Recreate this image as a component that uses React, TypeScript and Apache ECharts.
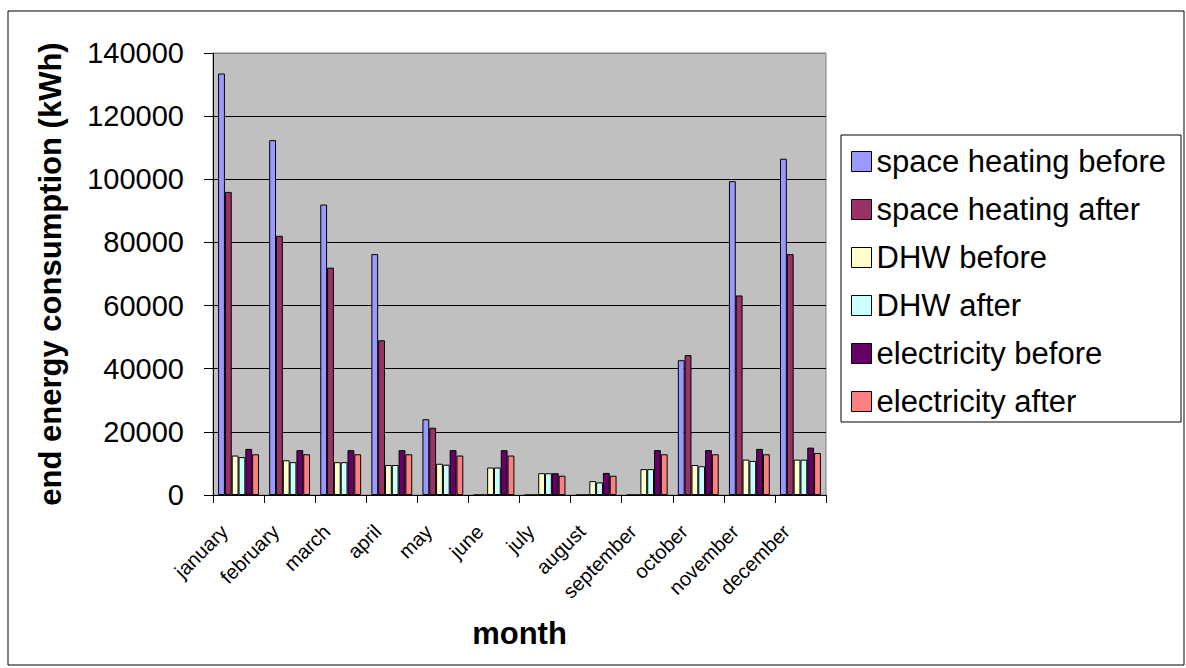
import React, { useEffect, useRef } from "react";
import * as echarts from "echarts";

const months = ["january", "february", "march", "april", "may", "june", "july", "august", "september", "october", "november", "december"];
const seriesNames = ["space heating before", "space heating after", "DHW before", "DHW after", "electricity before", "electricity after"];
const seriesColors = ["#9999FF", "#993366", "#FFFFCC", "#CCFFFF", "#660066", "#FF8080"];
const spaceHeatingBefore = [133500, 112400, 92000, 76300, 24000, 0, 0, 0, 0, 42700, 99400, 106500];
const spaceHeatingAfter = [96000, 82100, 72000, 49000, 21300, 0, 0, 0, 0, 44300, 63200, 76300];
const dhwBefore = [12500, 11000, 10400, 9500, 9900, 8700, 6900, 4400, 8200, 9500, 11200, 11200];
const dhwAfter = [12000, 10400, 10400, 9500, 9600, 8700, 6900, 4000, 8200, 9100, 10800, 11200];
const electricityBefore = [14600, 14200, 14200, 14200, 14200, 14200, 6900, 7000, 14200, 14200, 14600, 15000];
const electricityAfter = [12900, 12900, 12900, 12900, 12500, 12500, 6100, 6100, 12900, 12900, 12900, 13300];
const yTicks = { min: 0, max: 140000, interval: 20000 };

const FONT = "'Liberation Sans', Arial, sans-serif";

export default function App() {
  const ref = useRef<HTMLDivElement>(null);
  useEffect(() => {
    if (!ref.current) return;
    const chart = echarts.init(ref.current, null, { renderer: "svg" });
    const allData = [spaceHeatingBefore, spaceHeatingAfter, dhwBefore, dhwAfter, electricityBefore, electricityAfter];
    const gridL = 213, gridT = 53, gridW = 613, gridH = 442;
    chart.setOption({
      animation: false,
      backgroundColor: "#ffffff",
      textStyle: { fontFamily: FONT },
      grid: {
        left: gridL, top: gridT, width: gridW, height: gridH,
        show: true, backgroundColor: "#C0C0C0", borderColor: "#808080", borderWidth: 1,
      },
      legend: {
        orient: "vertical",
        left: 851, top: 146, padding: 0,
        itemWidth: 20, itemHeight: 20, itemGap: 17, itemTextGap: 10,
        icon: "rect",
        itemStyle: { borderColor: "#000", borderWidth: 1 },
        textStyle: { fontSize: 31, color: "#000", fontFamily: FONT },
        data: seriesNames,
      },
      xAxis: {
        type: "category",
        data: months,
        axisLine: { lineStyle: { color: "#000", width: 1 } },
        axisTick: { show: true, length: 8, lineStyle: { color: "#000" } },
        axisLabel: { rotate: 45, fontSize: 20, color: "#000", fontFamily: FONT, margin: 19, padding: [0, 20, 0, 0], interval: 0 },
        splitLine: { show: false },
      },
      yAxis: {
        type: "value",
        min: yTicks.min, max: yTicks.max, interval: yTicks.interval,
        axisLine: { show: true, lineStyle: { color: "#000", width: 1 } },
        axisTick: { show: true, length: 9, lineStyle: { color: "#000" } },
        axisLabel: { fontSize: 29, color: "#000", fontFamily: FONT, margin: 29, formatter: (v: number) => String(v) },
        splitLine: {
          show: true,
          lineStyle: { color: ["#000", "#000", "#000", "#000", "#000", "#000", "#000", "#808080"], width: 1 },
        },
      },
      series: seriesNames.map((name, i) => ({
        name,
        type: "bar",
        data: allData[i],
        barGap: "0%",
        barCategoryGap: "20%",
        itemStyle: { color: seriesColors[i], borderColor: "#000", borderWidth: 1 },
      })),
      graphic: [
        { type: "rect", shape: { x: 8, y: 11, width: 1176, height: 654 }, style: { fill: "none", stroke: "#000", lineWidth: 1 }, silent: true, z: -10 },
        { type: "rect", shape: { x: 841, y: 135, width: 340, height: 287 }, style: { fill: "none", stroke: "#000", lineWidth: 1 }, silent: true, z: -5 },
        {
          type: "text", x: 50, y: gridT + gridH / 2, rotation: Math.PI / 2,
          style: { text: "end energy consumption (kWh)", font: `bold 31px ${FONT}`, fill: "#000", align: "center", verticalAlign: "middle" },
        },
        {
          type: "text", x: gridL + gridW / 2, y: 633,
          style: { text: "month", font: `bold 31px ${FONT}`, fill: "#000", align: "center", verticalAlign: "middle" },
        },
      ],
    });
    return () => chart.dispose();
  }, []);
  return <div ref={ref} style={{ position: "fixed", left: 0, top: 0, width: 1186, height: 668 }} />;
}
